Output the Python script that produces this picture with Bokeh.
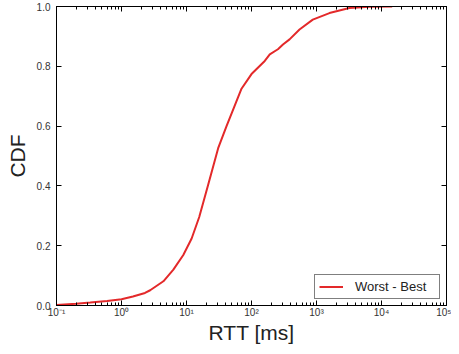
from bokeh.plotting import figure
from bokeh.models import LogAxis, LinearAxis, FixedTicker, PrintfTickFormatter, Legend
from bokeh.embed import file_html
from bokeh.resources import INLINE

# Data
rtt_ms = [0.1, 0.2, 0.33, 0.6, 1.0, 1.5, 2.3, 2.76, 4.41, 6.28, 8.93, 12.0, 15.7,
          21.6, 30.7, 41.3, 55.6, 70.2, 100, 160, 191, 255, 305, 385, 548, 877,
          1582, 3205, 6490, 14600]
cdf = [0.002, 0.006, 0.010, 0.015, 0.021, 0.030, 0.042, 0.051, 0.081, 0.120,
       0.169, 0.224, 0.296, 0.405, 0.526, 0.600, 0.670, 0.725, 0.774, 0.818,
       0.840, 0.857, 0.873, 0.890, 0.923, 0.956, 0.978, 0.995, 0.999, 1.0]
series_label = "Worst - Best"
x_ticks = [0.1, 1, 10, 100, 1000, 10000, 100000]
x_tick_labels = ["10⁻¹", "10⁰", "10¹", "10²", "10³", "10⁴", "10⁵"]
y_ticks = [0.0, 0.2, 0.4, 0.6, 0.8, 1.0]

FONT = "Liberation Sans"
minor = [m * 10 ** e for e in range(-1, 5) for m in range(2, 10)]

p = figure(width=451, height=346, x_axis_type="log",
           x_range=(0.1, 100000), y_range=(0, 1),
           output_backend="svg", toolbar_location=None,
           min_border_left=56, min_border_right=5, min_border_top=6,
           min_border_bottom=0)
p.xgrid.visible = False
p.ygrid.visible = False
p.outline_line_color = "black"
p.outline_line_width = 1
p.background_fill_color = "white"
p.border_fill_color = "white"

r = p.line(rtt_ms, cdf, line_color="#e3292a", line_width=2)

for ax in p.xaxis:
    ax.ticker = FixedTicker(ticks=x_ticks, minor_ticks=minor)
    ax.major_label_overrides = {t: l for t, l in zip(x_ticks, x_tick_labels)}
    ax.axis_label = "RTT [ms]"
    ax.axis_label_text_font = FONT
    ax.axis_label_text_font_size = "21px"
    ax.axis_label_text_font_style = "normal"
    ax.axis_label_text_color = "#222222"
    ax.axis_label_standoff = 0
    ax.major_label_text_font = FONT
    ax.major_label_text_font_size = "10px"
    ax.major_label_text_color = "#333333"
    ax.major_label_standoff = 1
    ax.major_tick_in = 5
    ax.major_tick_out = 0
    ax.minor_tick_in = 3
    ax.minor_tick_out = 0
    ax.axis_line_color = "black"

for ax in p.yaxis:
    ax.ticker = FixedTicker(ticks=y_ticks)
    ax.formatter = PrintfTickFormatter(format="%.1f")
    ax.axis_label = "CDF"
    ax.axis_label_text_font = FONT
    ax.axis_label_text_font_size = "21px"
    ax.axis_label_text_font_style = "normal"
    ax.axis_label_text_color = "#222222"
    ax.axis_label_standoff = 5
    ax.major_label_text_font = FONT
    ax.major_label_text_font_size = "10px"
    ax.major_label_text_color = "#333333"
    ax.major_label_standoff = 6
    ax.major_tick_in = 5
    ax.major_tick_out = 0
    ax.minor_tick_line_color = None
    ax.axis_line_color = "black"

top = LogAxis(ticker=FixedTicker(ticks=x_ticks, minor_ticks=minor),
              major_label_text_font_size="1px", major_label_text_color=None,
              major_tick_in=5, major_tick_out=0,
              minor_tick_in=3, minor_tick_out=0, major_label_standoff=0)
right = LinearAxis(ticker=FixedTicker(ticks=y_ticks),
                   major_label_text_font_size="1px", major_label_text_color=None,
                   major_tick_in=5, major_tick_out=0,
                   minor_tick_line_color=None, major_label_standoff=0)
p.add_layout(top, "above")
p.add_layout(right, "right")

legend = Legend(items=[(series_label, [r])], location="bottom_right")
legend.label_text_font = FONT
legend.label_text_font_size = "13px"
legend.label_text_color = "#222222"
legend.border_line_color = "black"
legend.border_line_width = 1
legend.padding = 4
legend.spacing = 0
legend.margin = 6
legend.glyph_width = 24
legend.glyph_height = 13
legend.label_height = 13
legend.label_width = 80
legend.label_standoff = 12
legend.background_fill_alpha = 1.0
p.add_layout(legend)

open("out.html", "w").write(file_html(p, INLINE))
